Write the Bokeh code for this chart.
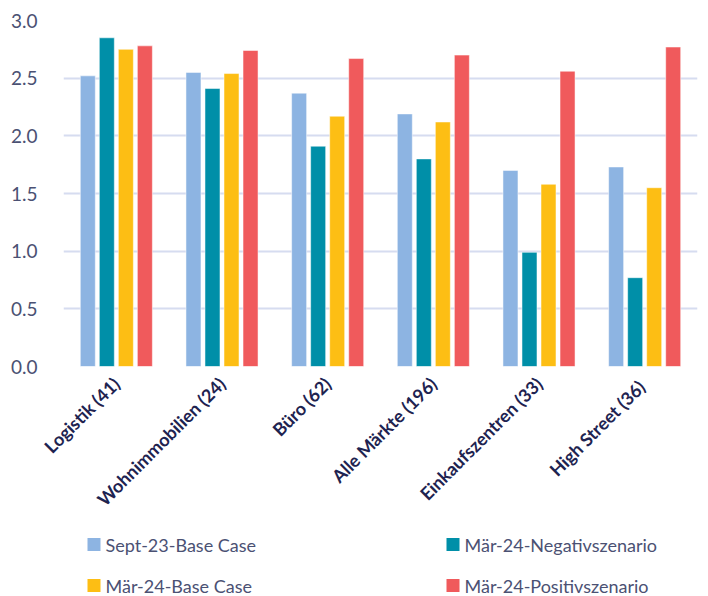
import math
from bokeh.plotting import figure
from bokeh.layouts import column
from bokeh.models import (FactorRange, Range1d, FixedTicker,
                          NumeralTickFormatter, ColumnDataSource)
from bokeh.core.properties import value
from bokeh.transform import dodge
from bokeh.embed import file_html
from bokeh.resources import INLINE

# Kategorien (Anzahl der Märkte in Klammern)
categories = ["Logistik (41)", "Wohnimmobilien (24)", "Büro (62)",
              "Alle Märkte (196)", "Einkaufszentren (33)", "High Street  (36)"]

# Werte je Szenario
sept23_base = [2.52, 2.55, 2.37, 2.19, 1.70, 1.73]
maer24_negativ = [2.85, 2.41, 1.91, 1.80, 0.99, 0.77]
maer24_base = [2.75, 2.54, 2.17, 2.12, 1.58, 1.55]
maer24_positiv = [2.78, 2.74, 2.67, 2.70, 2.56, 2.77]

series_labels = ["Sept-23-Base Case", "Mär-24-Negativszenario",
                 "Mär-24-Base Case", "Mär-24-Positivszenario"]
y_ticks = [0.0, 0.5, 1.0, 1.5, 2.0, 2.5, 3.0]

colors = ["#8db4e2", "#008fa8", "#fdbe14", "#f05a5c"]
offsets = [-0.27, -0.09, 0.09, 0.27]
TEXT_COLOR = "#4b5173"
WIDTH = 708
FRAME_LEFT, FRAME_RIGHT, FRAME_TOP, FRAME_BOTTOM = 63, 697, 20, 366
MAIN_H = 522
LEGEND_H = 596 - MAIN_H

source = ColumnDataSource(dict(
    cat=categories,
    s0=sept23_base,
    s1=maer24_negativ,
    s2=maer24_base,
    s3=maer24_positiv,
))

# Hauptdiagramm
p = figure(
    width=WIDTH, height=MAIN_H,
    x_range=FactorRange(*categories),
    y_range=Range1d(0, 3.0),
    output_backend="svg", toolbar_location=None,
    min_border_left=FRAME_LEFT, min_border_right=WIDTH - FRAME_RIGHT,
    min_border_top=FRAME_TOP, min_border_bottom=MAIN_H - FRAME_BOTTOM,
)
p.outline_line_color = None
p.background_fill_color = "white"
p.border_fill_color = "white"

for i, col in enumerate(["s0", "s1", "s2", "s3"]):
    p.vbar(x=dodge("cat", offsets[i], range=p.x_range), top=col, width=0.142,
           source=source, fill_color=colors[i], line_color="white",
           line_width=1, line_alpha=0.5)

p.xgrid.grid_line_color = None
p.ygrid.grid_line_color = "#d6dcf0"
p.ygrid.grid_line_width = 2

p.yaxis.ticker = FixedTicker(ticks=y_ticks)
p.yaxis.formatter = NumeralTickFormatter(format="0.0")
p.yaxis.axis_line_color = None
p.yaxis.major_tick_line_color = None
p.yaxis.minor_tick_line_color = None
p.yaxis.major_label_standoff = 20
p.yaxis.major_label_text_font = "Lato"
p.yaxis.major_label_text_font_size = "19px"
p.yaxis.major_label_text_color = TEXT_COLOR

p.xaxis.axis_line_color = None
p.xaxis.major_tick_line_color = None
p.xaxis.minor_tick_line_color = None
p.xaxis.major_label_orientation = math.pi / 4
p.xaxis.major_label_standoff = 8
p.xaxis.major_label_text_font = "Lato"
p.xaxis.major_label_text_font_style = "bold"
p.xaxis.major_label_text_font_size = "18px"
p.xaxis.major_label_text_color = "#1e2350"

# Legendenstreifen: 2 x 2 Einträge; x in Seitenpixeln, y in Pixeln ab Streifenoberkante
leg = figure(
    width=WIDTH, height=LEGEND_H,
    x_range=Range1d(FRAME_LEFT, FRAME_RIGHT), y_range=Range1d(LEGEND_H, 0),
    output_backend="svg", toolbar_location=None,
    min_border_left=FRAME_LEFT, min_border_right=WIDTH - FRAME_RIGHT,
    min_border_top=0, min_border_bottom=0,
    x_axis_location=None, y_axis_location=None,
)
leg.grid.visible = False
leg.outline_line_color = None
leg.border_fill_color = "white"
leg.background_fill_color = "white"

col_x = [93.5, 452.5]
row_y = [544 - MAIN_H, 585 - MAIN_H]
sw_x = [col_x[i % 2] for i in range(4)]
sw_y = [row_y[i // 2] for i in range(4)]
leg_src = ColumnDataSource(dict(
    x=sw_x, y=sw_y, tx=[x + 11.5 for x in sw_x],
    label=series_labels, color=colors,
))
leg.scatter("x", "y", source=leg_src, marker="square", size=13,
            fill_color="color", line_color=None)
leg.text("tx", "y", text="label", source=leg_src,
         text_font=value("Lato"), text_font_size="18px",
         text_baseline="middle", text_align="left", text_color=TEXT_COLOR)

layout = column(p, leg, spacing=0)
open("out.html", "w").write(file_html(layout, INLINE))
